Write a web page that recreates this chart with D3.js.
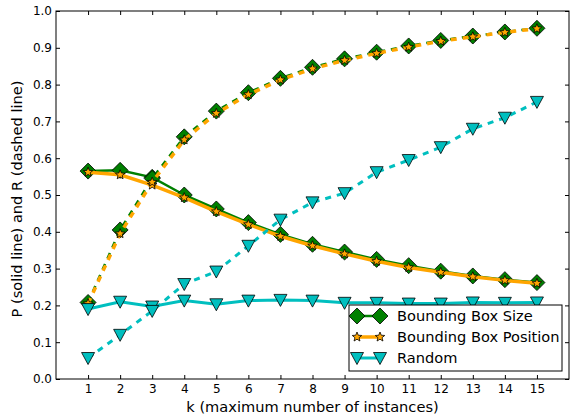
<!DOCTYPE html>
<html>
<head>
<meta charset="utf-8">
<script src="https://cdnjs.cloudflare.com/ajax/libs/d3/7.8.5/d3.min.js"></script>
<style>
  body { margin: 0; background: #fff; }
  svg { font-family: "DejaVu Sans", sans-serif; }
</style>
</head>
<body>
<div id="chart"></div>
<script>
// k values and tick labels
var ks = [1, 2, 3, 4, 5, 6, 7, 8, 9, 10, 11, 12, 13, 14, 15];
var yTicks = [0, 0.1, 0.2, 0.3, 0.4, 0.5, 0.6, 0.7, 0.8, 0.9, 1.0];

// precision (solid) and recall (dashed) per method
var sizeP = [0.565, 0.567, 0.548, 0.500, 0.462, 0.425, 0.393, 0.366, 0.345, 0.325, 0.308, 0.293, 0.280, 0.270, 0.262];
var sizeR = [0.208, 0.405, 0.545, 0.658, 0.728, 0.778, 0.817, 0.847, 0.870, 0.888, 0.905, 0.920, 0.932, 0.943, 0.953];
var posP = [0.562, 0.555, 0.527, 0.493, 0.455, 0.420, 0.388, 0.362, 0.340, 0.320, 0.303, 0.290, 0.278, 0.268, 0.260];
var posR = [0.205, 0.395, 0.535, 0.650, 0.722, 0.773, 0.813, 0.843, 0.866, 0.885, 0.902, 0.918, 0.930, 0.942, 0.952];
var randP = [0.190, 0.210, 0.197, 0.213, 0.203, 0.213, 0.215, 0.213, 0.207, 0.207, 0.205, 0.205, 0.208, 0.207, 0.208];
var randR = [0.057, 0.120, 0.185, 0.258, 0.292, 0.362, 0.433, 0.480, 0.505, 0.562, 0.595, 0.630, 0.680, 0.710, 0.753];

var labels = ["Bounding Box Size", "Bounding Box Position", "Random"];

var width = 572, height = 419;
var margin = {top: 11, right: 3, bottom: 40, left: 56};
var w = width - margin.left - margin.right,
    h = height - margin.top - margin.bottom;

var series = [
  {name: labels[0], values: sizeP, dash: null, color: "#008000", lw: 2.5, marker: "diamond"},
  {name: labels[0], values: sizeR, dash: "6,6", color: "#008000", lw: 2.5, marker: "diamond"},
  {name: labels[1], values: posP, dash: null, color: "#ffa500", lw: 3.5, marker: "star"},
  {name: labels[1], values: posR, dash: "6,6", color: "#ffa500", lw: 3.5, marker: "star"},
  {name: labels[2], values: randP, dash: null, color: "#00bfbf", lw: 3, marker: "tri"},
  {name: labels[2], values: randR, dash: "6,6", color: "#00bfbf", lw: 3, marker: "tri"}
];

var x = d3.scaleLinear().domain([0, 16]).range([0, w]);
var y = d3.scaleLinear().domain([0, 1]).range([h, 0]);

var svg = d3.select("#chart").append("svg")
    .attr("width", width)
    .attr("height", height);
var g = svg.append("g")
    .attr("transform", "translate(" + margin.left + "," + margin.top + ")");

function markerPath(type) {
  if (type === "diamond") return "M0,-8L8,0L0,8L-8,0Z";
  if (type === "tri") return "M-6.5,-5.5L6.5,-5.5L0,6.5Z";
  // five-point star
  var pts = [];
  for (var i = 0; i < 10; i++) {
    var r = i % 2 === 0 ? 5 : 2.2;
    var a = -Math.PI / 2 + i * Math.PI / 5;
    pts.push([r * Math.cos(a), r * Math.sin(a)]);
  }
  return "M" + pts.join("L") + "Z";
}

function markerFill(type) {
  return type === "diamond" ? "#008000" : type === "star" ? "#ffa500" : "#00bfbf";
}

var line = d3.line()
    .x(function(d, i) { return x(ks[i]); })
    .y(function(d) { return y(d); });

// lines and markers
series.forEach(function(s) {
  g.append("path")
      .attr("d", line(s.values))
      .attr("fill", "none")
      .attr("stroke", s.color)
      .attr("stroke-width", s.lw)
      .attr("stroke-dasharray", s.dash);
  g.selectAll(null).data(s.values).enter()
    .append("path")
      .attr("transform", function(d, i) { return "translate(" + x(ks[i]) + "," + y(d) + ")"; })
      .attr("d", markerPath(s.marker))
      .attr("fill", markerFill(s.marker))
      .attr("stroke", "#000")
      .attr("stroke-width", 0.8);
});

// axes with inward ticks on all four sides
var axes = [
  {ax: d3.axisBottom(x).tickValues(ks).tickSize(-4).tickPadding(5), t: "translate(0," + h + ")", labels: true},
  {ax: d3.axisTop(x).tickValues(ks).tickSize(-4), t: null, labels: false},
  {ax: d3.axisLeft(y).tickValues(yTicks).tickSize(-4).tickPadding(4).tickFormat(d3.format(".1f")), t: null, labels: true},
  {ax: d3.axisRight(y).tickValues(yTicks).tickSize(-4), t: "translate(" + w + ",0)", labels: false}
];
axes.forEach(function(a) {
  var ag = g.append("g").attr("transform", a.t).call(a.ax);
  ag.select(".domain").remove();
  ag.selectAll("line").attr("stroke", "#000");
  ag.selectAll("text").attr("font-size", 12).attr("fill", "#000")
      .attr("font-family", "DejaVu Sans");
  if (!a.labels) ag.selectAll("text").remove();
});

g.append("rect")
    .attr("width", w).attr("height", h)
    .attr("fill", "none").attr("stroke", "#000").attr("stroke-width", 1);

// axis titles
svg.append("text")
    .attr("x", margin.left + w / 2)
    .attr("y", height - 7)
    .attr("text-anchor", "middle")
    .attr("font-size", 14.6)
    .text("k (maximum number of instances)");
svg.append("text")
    .attr("transform", "translate(22," + (margin.top + h / 2 + 4) + ") rotate(-90)")
    .attr("text-anchor", "middle")
    .attr("font-size", 14.6)
    .text("P (solid line) and R (dashed line)");

// legend
var legend = g.append("g").attr("transform", "translate(293,294)");
legend.append("rect")
    .attr("width", 213).attr("height", 66)
    .attr("fill", "#fff").attr("stroke", "#000").attr("stroke-width", 1);
[0, 2, 4].forEach(function(si, i) {
  var s = series[si];
  var row = legend.append("g").attr("transform", "translate(0," + (11 + i * 21) + ")");
  row.append("line")
      .attr("x1", 8).attr("x2", 31)
      .attr("stroke", s.color).attr("stroke-width", s.lw);
  [8, 31].forEach(function(px) {
    row.append("path")
        .attr("transform", "translate(" + px + ",0)")
        .attr("d", markerPath(s.marker))
        .attr("fill", markerFill(s.marker))
        .attr("stroke", "#000").attr("stroke-width", 0.8);
  });
  row.append("text")
      .attr("x", 48).attr("dy", "0.35em")
      .attr("font-size", 14.6)
      .text(s.name);
});
</script>
</body>
</html>
